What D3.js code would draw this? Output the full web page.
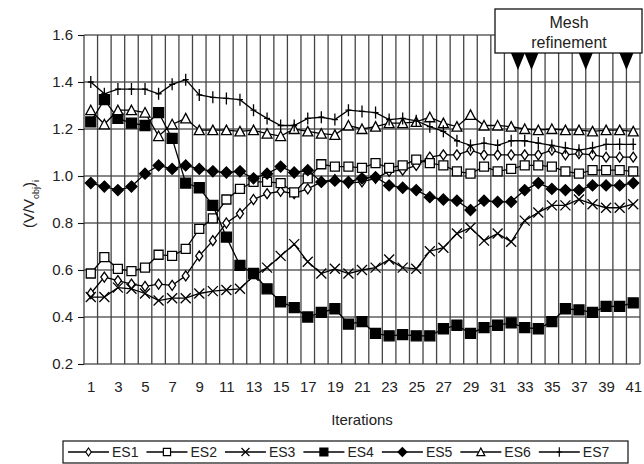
<!DOCTYPE html>
<html>
<head>
<meta charset="utf-8">
<script src="https://cdn.jsdelivr.net/npm/d3@7"></script>
<style>
  body { margin: 0; background: #fff; }
  svg { font-family: "Liberation Sans", Arial, sans-serif; }
</style>
</head>
<body>
<script>
// Chart data
const iterations = d3.range(1, 42);
const xTickLabels = [1, 3, 5, 7, 9, 11, 13, 15, 17, 19, 21, 23, 25, 27, 29, 31, 33, 35, 37, 39, 41];
const yTicks = [0.2, 0.4, 0.6, 0.8, 1.0, 1.2, 1.4, 1.6];
const seriesNames = ['ES1', 'ES2', 'ES3', 'ES4', 'ES5', 'ES6', 'ES7'];
const refinementAt = [32.5, 33.5, 37.5, 40.5];

const es1 = [0.50, 0.57, 0.555, 0.54, 0.53, 0.54, 0.535, 0.575, 0.66, 0.725,
  0.80, 0.84, 0.90, 0.925, 0.935, 0.925, 0.945, 0.975, 0.985, 0.97,
  0.975, 0.99, 1.02, 1.025, 1.045, 1.08, 1.09, 1.09, 1.11, 1.09,
  1.09, 1.09, 1.09, 1.09, 1.11, 1.09, 1.095, 1.09, 1.08, 1.08, 1.08];
const es2 = [0.585, 0.655, 0.605, 0.595, 0.61, 0.665, 0.66, 0.69, 0.775, 0.82,
  0.90, 0.945, 0.975, 0.975, 0.97, 0.93, 0.99, 1.05, 1.04, 1.04,
  1.035, 1.055, 1.035, 1.045, 1.07, 1.055, 1.045, 1.02, 1.01, 1.04,
  1.02, 1.03, 1.045, 1.045, 1.04, 1.02, 1.01, 1.025, 1.025, 1.025, 1.02];
const es3 = [0.485, 0.485, 0.525, 0.52, 0.50, 0.47, 0.48, 0.48, 0.50, 0.51,
  0.515, 0.52, 0.575, 0.61, 0.66, 0.71, 0.635, 0.585, 0.605, 0.585,
  0.60, 0.61, 0.645, 0.61, 0.605, 0.68, 0.695, 0.755, 0.78, 0.725,
  0.755, 0.72, 0.81, 0.845, 0.875, 0.875, 0.90, 0.88, 0.865, 0.865, 0.88];
const es4 = [1.23, 1.325, 1.245, 1.225, 1.215, 1.27, 1.16, 0.97, 0.95, 0.875,
  0.74, 0.62, 0.585, 0.52, 0.465, 0.44, 0.40, 0.42, 0.435, 0.37,
  0.38, 0.33, 0.32, 0.325, 0.32, 0.32, 0.35, 0.365, 0.33, 0.355,
  0.365, 0.375, 0.355, 0.35, 0.38, 0.435, 0.43, 0.42, 0.445, 0.445, 0.46];
const es5 = [0.97, 0.955, 0.94, 0.955, 1.01, 1.045, 1.03, 1.045, 1.03, 1.02,
  1.015, 1.02, 0.99, 1.01, 1.04, 1.015, 1.025, 0.975, 0.98, 0.975,
  0.99, 0.995, 0.96, 0.95, 0.94, 0.91, 0.90, 0.895, 0.855, 0.895,
  0.89, 0.89, 0.94, 0.97, 0.945, 0.94, 0.94, 0.96, 0.96, 0.96, 0.97];
const es6 = [1.28, 1.22, 1.28, 1.28, 1.27, 1.17, 1.22, 1.245, 1.195, 1.195,
  1.195, 1.19, 1.195, 1.18, 1.17, 1.20, 1.19, 1.18, 1.175, 1.215,
  1.20, 1.21, 1.225, 1.225, 1.23, 1.25, 1.225, 1.21, 1.26, 1.215,
  1.215, 1.21, 1.20, 1.195, 1.20, 1.195, 1.195, 1.19, 1.195, 1.195, 1.19];
const es7 = [1.40, 1.35, 1.37, 1.37, 1.37, 1.35, 1.39, 1.41, 1.345, 1.335,
  1.33, 1.325, 1.28, 1.245, 1.215, 1.215, 1.245, 1.25, 1.24, 1.28,
  1.275, 1.27, 1.24, 1.245, 1.235, 1.21, 1.19, 1.15, 1.13, 1.14,
  1.13, 1.15, 1.15, 1.14, 1.13, 1.12, 1.11, 1.12, 1.135, 1.135, 1.135];

const allSeries = [es1, es2, es3, es4, es5, es6, es7];

// Layout
const width = 644;
const height = 464;
const margin = { top: 35, right: 4, bottom: 100, left: 84 };

const svg = d3.select('body')
  .append('svg')
  .attr('width', width)
  .attr('height', height);

const x = d3.scaleLinear()
  .domain([0.5, 41.5])
  .range([margin.left, width - margin.right]);

const y = d3.scaleLinear()
  .domain([0.2, 1.6])
  .range([height - margin.bottom, margin.top]);

// Marker shapes (open / filled, drawn around 0,0)
const markers = [
  { d: 'M0,-5L3.5,0L0,5L-3.5,0Z', fill: '#fff' },            // open diamond
  { d: 'M-4.5,-4.5H4.5V4.5H-4.5Z', fill: '#fff' },            // open square
  { d: 'M-5,-5L5,5M-5,5L5,-5', fill: 'none' },                // cross
  { d: 'M-5,-5H5V5H-5Z', fill: '#000' },                      // filled square
  { d: 'M0,-5.5L5.5,0L0,5.5L-5.5,0Z', fill: '#000' },         // filled diamond
  { d: 'M0,-5L5,4.5H-5Z', fill: '#fff' },                     // open triangle
  { d: 'M0,-6V6M-3,0H3', fill: 'none' }                       // plus
];

// Gridlines
const grid = svg.append('g');
grid.selectAll('line.h')
  .data(yTicks)
  .enter()
  .append('line')
  .attr('x1', x.range()[0])
  .attr('x2', x.range()[1])
  .attr('y1', d => y(d))
  .attr('y2', d => y(d))
  .attr('stroke', '#111')
  .attr('stroke-width', 1.1);

grid.selectAll('line.v')
  .data(d3.range(0, 42).map(i => i + 0.5))
  .enter()
  .append('line')
  .attr('x1', d => x(d))
  .attr('x2', d => x(d))
  .attr('y1', y(0.2))
  .attr('y2', y(1.6))
  .attr('stroke', '#444')
  .attr('stroke-width', 1.3);

// Y axis
const yAxis = svg.append('g')
  .attr('transform', `translate(${margin.left},0)`)
  .call(d3.axisLeft(y).tickValues(yTicks).tickFormat(d3.format('.1f')).tickSize(6).tickPadding(5));
yAxis.select('.domain').remove();
yAxis.selectAll('line').attr('stroke', '#111').attr('stroke-width', 1.1);
yAxis.selectAll('text').style('font-size', '15px').attr('fill', '#222');

// X axis labels
const xAxis = svg.append('g')
  .attr('transform', `translate(0,${y(0.2)})`)
  .call(d3.axisBottom(x).tickValues(xTickLabels).tickFormat(d3.format('d')).tickSize(0).tickPadding(17));
xAxis.select('.domain').remove();
xAxis.selectAll('text').style('font-size', '15px').attr('fill', '#222');

// Axis titles
svg.append('text')
  .attr('x', (x.range()[0] + x.range()[1]) / 2)
  .attr('y', 425)
  .attr('text-anchor', 'middle')
  .style('font-size', '15px')
  .attr('fill', '#222')
  .text('Iterations');

const yTitle = svg.append('text')
  .attr('transform', 'translate(34,204) rotate(-90)')
  .attr('text-anchor', 'middle')
  .style('font-size', '15px')
  .attr('fill', '#222');
yTitle.append('tspan').text('(V/V');
yTitle.append('tspan').attr('baseline-shift', 'sub').style('font-size', '9px').text('obj');
yTitle.append('tspan').text(')');
yTitle.append('tspan').attr('baseline-shift', 'sub').style('font-size', '9px').text('i');

// Series lines and markers
const line = d3.line()
  .x((d, i) => x(iterations[i]))
  .y(d => y(d));

allSeries.forEach((values, s) => {
  const g = svg.append('g');
  g.append('path')
    .datum(values)
    .attr('d', line)
    .attr('fill', 'none')
    .attr('stroke', '#000')
    .attr('stroke-width', 1.3);

  g.selectAll('path.m')
    .data(values)
    .enter()
    .append('path')
    .attr('transform', (d, i) => `translate(${x(iterations[i])},${y(d)})`)
    .attr('d', markers[s].d)
    .attr('fill', markers[s].fill)
    .attr('stroke', '#000')
    .attr('stroke-width', 1.3);
});

// Mesh refinement annotation
svg.append('rect')
  .attr('x', 495)
  .attr('y', 9)
  .attr('width', 147)
  .attr('height', 44)
  .attr('fill', '#fff')
  .attr('stroke', '#111')
  .attr('stroke-width', 1.3);

svg.append('text')
  .attr('x', 569)
  .attr('y', 28)
  .attr('text-anchor', 'middle')
  .style('font-size', '16px')
  .attr('fill', '#222')
  .text('Mesh');

svg.append('text')
  .attr('x', 569)
  .attr('y', 48)
  .attr('text-anchor', 'middle')
  .style('font-size', '16px')
  .attr('fill', '#222')
  .text('refinement');

svg.selectAll('path.tri')
  .data(refinementAt)
  .enter()
  .append('path')
  .attr('transform', d => `translate(${x(d)},53)`)
  .attr('d', 'M-7,0H7L0,17Z')
  .attr('fill', '#000');

// Legend
const legend = svg.append('g');
legend.append('rect')
  .attr('x', 63)
  .attr('y', 441)
  .attr('width', 565)
  .attr('height', 22)
  .attr('fill', '#fff')
  .attr('stroke', '#111')
  .attr('stroke-width', 1.2);

let lx = 68;
seriesNames.forEach((name, s) => {
  const item = legend.append('g').attr('transform', `translate(${lx},452)`);
  item.append('line')
    .attr('x1', 0).attr('x2', 41)
    .attr('stroke', '#000')
    .attr('stroke-width', 1.3);
  item.append('path')
    .attr('transform', 'translate(20.5,0) scale(0.8)')
    .attr('d', markers[s].d)
    .attr('fill', markers[s].fill)
    .attr('stroke', '#000')
    .attr('stroke-width', 1.5);
  const t = item.append('text')
    .attr('x', 44)
    .attr('dy', '0.35em')
    .style('font-size', '14px')
    .attr('fill', '#222')
    .text(name);
  lx += 44 + t.node().getComputedTextLength() + 8;
});
</script>
</body>
</html>
